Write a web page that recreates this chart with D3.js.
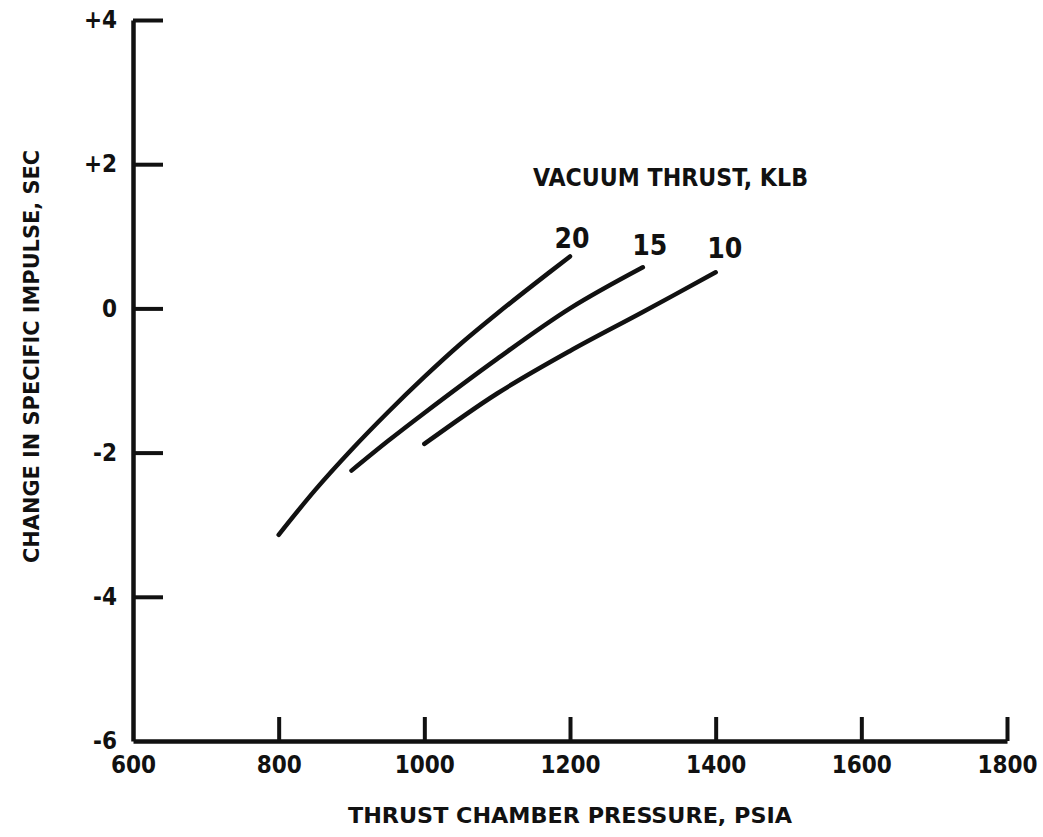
<!DOCTYPE html>
<html>
<head>
<meta charset="utf-8">
<script src="https://cdn.jsdelivr.net/npm/d3@7"></script>
<style>
  html, body { margin: 0; padding: 0; background: #fff; }
  svg { display: block; }
  text { font-family: "DejaVu Sans Condensed", "DejaVu Sans", sans-serif; font-weight: bold; fill: #111; }
</style>
</head>
<body>
<svg id="chart" width="1043" height="837"></svg>
<script>
// ---- data ----
const xTicks = [600, 800, 1000, 1200, 1400, 1600, 1800];
const yTicks = [-6, -4, -2, 0, 2, 4];
const yTickLabels = ["-6", "-4", "-2", "0", "+2", "+4"];
const seriesNames = ["20", "15", "10"];
const pressure20 = [800, 850, 900, 950, 1000, 1050, 1100, 1150, 1200];
const impulse20 = [-3.14, -2.52, -1.96, -1.44, -0.95, -0.49, -0.07, 0.33, 0.72];
const pressure15 = [900, 950, 1000, 1100, 1200, 1300];
const impulse15 = [-2.25, -1.84, -1.45, -0.7, 0.0, 0.57];
const pressure10 = [1000, 1100, 1200, 1300, 1400];
const impulse10 = [-1.88, -1.18, -0.59, -0.05, 0.5];
const legendTitle = "VACUUM THRUST, KLB";
const xTitle = "THRUST CHAMBER PRESSURE, PSIA";
const yTitle = "CHANGE IN SPECIFIC IMPULSE, SEC";

const series = [
  { name: seriesNames[0], xs: pressure20, ys: impulse20 },
  { name: seriesNames[1], xs: pressure15, ys: impulse15 },
  { name: seriesNames[2], xs: pressure10, ys: impulse10 }
];

// ---- scales ----
const svg = d3.select("#chart");
const x = d3.scaleLinear().domain([600, 1800]).range([133, 1007]);
const y = d3.scaleLinear().domain([-6, 4]).range([741, 20]);

// ---- axes ----
const xAxis = d3.axisBottom(x).tickValues(xTicks).tickFormat(d3.format("d"))
  .tickSizeInner(-24).tickSizeOuter(0).tickPadding(15);
const gx = svg.append("g").attr("transform", `translate(0,${y(-6)})`).call(xAxis);
gx.selectAll("text").attr("font-size", 24).attr("fill", "#111")
  .attr("font-family", '"DejaVu Sans Condensed", sans-serif').attr("font-weight", "bold");

const yAxis = d3.axisLeft(y).tickValues(yTicks).tickFormat((d, i) => yTickLabels[i])
  .tickSizeInner(-30).tickSizeOuter(0).tickPadding(16);
const gy = svg.append("g").attr("transform", `translate(${x(600)},0)`).call(yAxis);
gy.selectAll("text").attr("font-size", 24).attr("fill", "#111")
  .attr("font-family", '"DejaVu Sans Condensed", sans-serif').attr("font-weight", "bold");

[gx, gy].forEach(g => {
  g.select(".domain").attr("stroke", "#111").attr("stroke-width", 4.5);
  g.selectAll(".tick line").attr("stroke", "#111").attr("stroke-width", 4);
});
// remove redundant ticks at the corners
gx.selectAll(".tick").filter(d => d === 600).select("line").remove();
gy.selectAll(".tick").filter(d => d === -6).select("line").remove();

// ---- curves ----
const line = d3.line().x(d => x(d[0])).y(d => y(d[1])).curve(d3.curveCatmullRom.alpha(0.5));
series.forEach(s => {
  const pts = s.xs.map((v, i) => [v, s.ys[i]]);
  svg.append("path").datum(pts).attr("d", line)
    .attr("fill", "none").attr("stroke", "#111").attr("stroke-width", 4.5)
    .attr("stroke-linecap", "round");
});

// ---- curve labels ----
series.forEach((s, i) => {
  const last = s.xs.length - 1;
  const px = x(s.xs[last]);
  const py = y(s.ys[last]);
  svg.append("text")
    .attr("x", px + [2, 7, 9][i])
    .attr("y", py - [8, 12, 14][i])
    .attr("text-anchor", "middle")
    .attr("font-size", 28)
    .text(s.name);
});

// ---- legend title ----
svg.append("text").attr("x", 533).attr("y", 186)
  .attr("font-size", 25).attr("textLength", 275).attr("lengthAdjust", "spacingAndGlyphs")
  .text(legendTitle);

// ---- axis titles ----
svg.append("text").attr("x", 348).attr("y", 823)
  .attr("font-size", 21).attr("textLength", 444).attr("lengthAdjust", "spacingAndGlyphs")
  .text(xTitle);

svg.append("text")
  .attr("transform", "translate(39,563) rotate(-90)")
  .attr("x", 0).attr("y", 0)
  .attr("font-size", 22).attr("textLength", 413).attr("lengthAdjust", "spacingAndGlyphs")
  .text(yTitle);
</script>
</body>
</html>
